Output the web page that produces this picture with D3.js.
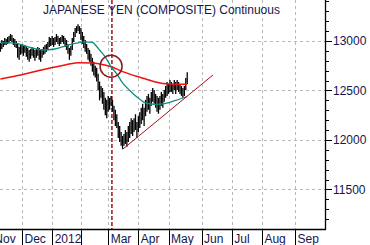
<!DOCTYPE html>
<html><head><meta charset="utf-8">
<script src="https://cdn.jsdelivr.net/npm/d3@7"></script>
<style>body{margin:0;background:#fff}svg{display:block}text{font-family:Arial,"Liberation Sans",sans-serif}</style>
</head><body><svg id="c" width="370" height="245"></svg>
<script>
const title = "JAPANESE YEN (COMPOSITE) Continuous";
const firstDay = -15;
const highs = [12980,13010,13000,13030,13020,13040,13050,13070,13060,13030,13020,13000,12970,12940,12960,
 12970,12950,12960,12940,12930,12910,12920,12940,12930,12910,12920,12940,12930,12910,12920,12940,12960,12970,12990,13040,13030,
 13050,13030,13040,13070,13050,13030,13040,13060,13050,13030,13010,12970,12930,12950,13030,13090,13130,13150,13170,13150,
 13130,13090,13050,13010,12970,12930,12910,12870,12830,12790,12750,12730,12670,12590,12545,12525,12485,12425,12405,
 12445,12425,12445,12405,12345,12305,12260,12180,12140,12080,12040,12060,12100,12080,12140,12180,12220,12200,12220,12260,12180,
 12240,12280,12325,12365,12325,12405,12445,12465,12425,12485,12525,12505,12465,12445,12425,12445,12485,12465,12505,12545,
 12585,12565,12605,12585,12565,12605,12585,12605,12585,12565,12545,12525,12545,12625,12685];
const lows = [12890,12920,12940,12960,12960,12970,12980,13000,12990,12960,12940,12930,12830,12810,12860,
 12870,12850,12880,12840,12810,12790,12820,12850,12830,12800,12830,12850,12810,12790,12830,12860,12870,12890,12910,12940,12950,
 12960,12940,12960,12990,12970,12950,12970,12990,12970,12940,12910,12870,12810,12850,12910,12990,13040,13080,13100,13070,
 13010,12970,12930,12890,12870,12810,12790,12750,12690,12650,12630,12590,12505,12400,12425,12365,12305,12250,12220,
 12285,12305,12345,12285,12200,12140,12120,12020,11980,11940,11910,11940,11960,11930,11980,12020,12060,12040,12080,12100,12020,
 12080,12120,12160,12200,12140,12240,12285,12305,12265,12345,12385,12365,12325,12285,12265,12305,12345,12325,12385,12425,
 12445,12465,12485,12485,12465,12505,12465,12505,12485,12465,12445,12425,12445,12505,12565];
const ma50 = [[-15,12980],[-8,12980],[-1,12965],[6,12934],[15,12909],[23,12919],[30,12949],[37,12975],[44,12990],[49,12985],
 [52,12944],[54,12909],[58,12838],[62,12740],[66,12667],[70,12576],[75,12500],[80,12434],[86,12374],[93,12359],[100,12369],[107,12399],[115,12439]];
const ma200 = [[-15,12616],[-1,12656],[15,12712],[30,12758],[40,12781],[49,12778],[54,12768],[62,12740],[70,12690],[79,12646],
 [86,12616],[93,12586],[102,12566],[115,12563]];
const trend = [[70,11905],[133,12657]];
const signalDay = 62.6;
const circleAt = [62, 12745];
const yTicks = [11500, 12000, 12500, 13000];
const monthTicks = [["Nov",-21],["Dec",0],["2012",21],["",41],["Mar",60],["Apr",81],["May",102],["Jun",125],["Jul",146],["Aug",167],["Sep",190]];

const svg = d3.select("#c");
const W = 325, H = 229;
const x = d3.scaleLinear().domain([-15.3, 210.9]).range([0, W]);
const y = d3.scaleLinear().domain([11100, 13414]).range([H, 0]);
const navy = "#16164e";

svg.append("defs").append("clipPath").attr("id","clip").append("rect").attr("width",W).attr("height",H);
const plot = svg.append("g").attr("clip-path","url(#clip)");

// grid
plot.selectAll(".hg").data(yTicks).join("line")
  .attr("x1",0).attr("x2",W).attr("y1",d=>Math.round(y(d))+0.5).attr("y2",d=>Math.round(y(d))+0.5)
  .attr("stroke","#b8b8b8").attr("stroke-dasharray","3,3");
plot.selectAll(".vg").data(monthTicks.slice(1)).join("line")
  .attr("x1",d=>Math.round(x(d[1]))+0.5).attr("x2",d=>Math.round(x(d[1]))+0.5).attr("y1",0).attr("y2",H)
  .attr("stroke","#b8b8b8").attr("stroke-dasharray","3,3");

// signal line
plot.append("line").attr("x1",x(signalDay)).attr("x2",x(signalDay)).attr("y1",0).attr("y2",H)
  .attr("stroke","#9a0000").attr("stroke-width",1.4).attr("stroke-dasharray","4,2");

// price bars
const bars = highs.map((h,i)=>({d:firstDay+i,h,l:lows[i]}));
plot.selectAll(".bar").data(bars).join("line")
  .attr("x1",d=>x(d.d)).attr("x2",d=>x(d.d)).attr("y1",d=>y(d.h)).attr("y2",d=>y(d.l))
  .attr("stroke","#000").attr("stroke-width",1.3);

const line = d3.line().x(d=>x(d[0])).y(d=>y(d[1])).curve(d3.curveMonotoneX);
plot.append("path").attr("d",line(ma200)).attr("fill","none").attr("stroke","#f01010").attr("stroke-width",1.5);
plot.append("path").attr("d",line(ma50)).attr("fill","none").attr("stroke","#0a8f82").attr("stroke-width",1.3);
plot.append("path").attr("d",d3.line().x(d=>x(d[0])).y(d=>y(d[1]))(trend)).attr("fill","none").attr("stroke","#a01020").attr("stroke-width",1);

plot.append("circle").attr("cx",x(circleAt[0])).attr("cy",y(circleAt[1])).attr("r",11)
  .attr("fill","none").attr("stroke","#8c1818").attr("stroke-width",1.5);

// title
svg.append("text").attr("x",43).attr("y",14).attr("font-size",12).attr("fill",navy).text(title);

// right axis
const ax = svg.append("g");
ax.append("line").attr("x1",W+0.5).attr("x2",W+0.5).attr("y1",0).attr("y2",H+0.5).attr("stroke","#000").attr("stroke-width",1.3);
ax.selectAll(".mt").data(d3.range(11200,13401,100)).join("line")
  .attr("x1",W).attr("x2",d=>W+(d%500===0?7:4)).attr("y1",d=>Math.round(y(d))+0.5).attr("y2",d=>Math.round(y(d))+0.5)
  .attr("stroke","#000");
ax.selectAll(".yl").data(yTicks).join("text")
  .attr("x",W+8).attr("y",d=>y(d)).attr("dy","0.36em").attr("font-size",12).attr("fill",navy).text(d=>d);

// bottom axis
ax.append("line").attr("x1",0).attr("x2",W+1).attr("y1",H+0.5).attr("y2",H+0.5).attr("stroke","#000").attr("stroke-width",1.3);
ax.selectAll(".bt").data(monthTicks).join("line")
  .attr("x1",d=>Math.round(x(d[1]))+0.5).attr("x2",d=>Math.round(x(d[1]))+0.5).attr("y1",H).attr("y2",245)
  .attr("stroke","#000");
ax.selectAll(".bl").data(monthTicks).join("text")
  .attr("x",d=>x(d[1])+2.5).attr("y",243).attr("font-size",12).attr("fill",navy).text(d=>d[0]);
</script></body></html>
